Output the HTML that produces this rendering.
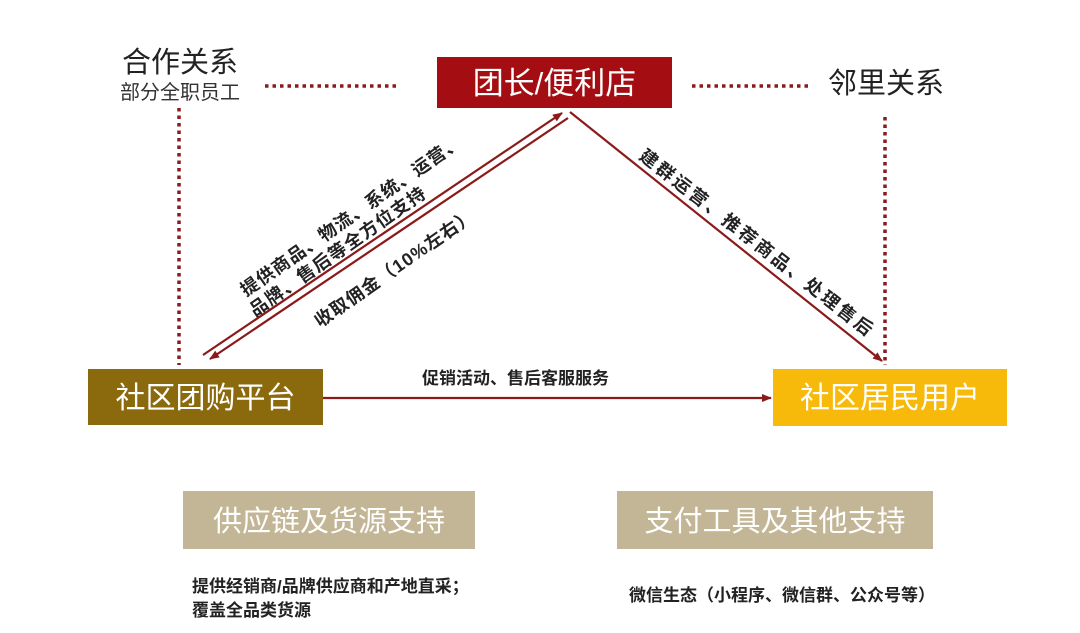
<!DOCTYPE html>
<html><head><meta charset="utf-8"><style>
html,body{margin:0;padding:0;background:#fff;}
svg{display:block;font-family:"Liberation Sans","Noto Sans CJK SC",sans-serif;}
</style></head><body>
<svg width="1080" height="633" viewBox="0 0 1080 633" xmlns="http://www.w3.org/2000/svg">
<defs>
<marker id="ah" markerWidth="10" markerHeight="8" refX="9" refY="4" orient="auto" markerUnits="userSpaceOnUse">
<path d="M0,0 L10,4 L0,8 z" fill="#8b1a1a"/>
</marker>
</defs>
<rect width="1080" height="633" fill="#fff"/>
<text x="122" y="72" font-size="29" fill="#222">合作关系</text>
<text x="120" y="99" font-size="20" fill="#333">部分全职员工</text>
<text x="828" y="93" font-size="29" fill="#222">邻里关系</text>
<g stroke="#8b1a1a" stroke-width="3.5" stroke-dasharray="3.5 4" fill="none">
<line x1="265" y1="86" x2="400" y2="86"/>
<line x1="692" y1="86" x2="808" y2="86"/>
<line x1="179" y1="108" x2="179" y2="365"/>
<line x1="885" y1="117" x2="885" y2="365"/>
</g>
<rect x="437" y="57" width="235" height="51" fill="#a40e12"/>
<text x="554.5" y="94" font-size="31" fill="#fff" text-anchor="middle">团长/便利店</text>
<rect x="88" y="369" width="235" height="56" fill="#8a6a0c"/>
<text x="205.5" y="408" font-size="30" fill="#fff" text-anchor="middle">社区团购平台</text>
<rect x="773" y="369" width="234" height="57" fill="#f7b90a"/>
<text x="890" y="408" font-size="30" fill="#fff" text-anchor="middle">社区居民用户</text>
<rect x="183" y="491" width="292" height="58" fill="#c3b696"/>
<text x="329" y="531" font-size="29" fill="#fff" text-anchor="middle">供应链及货源支持</text>
<rect x="617" y="491" width="316" height="58" fill="#c3b696"/>
<text x="775" y="531" font-size="29" fill="#fff" text-anchor="middle">支付工具及其他支持</text>
<g stroke="#8b1a1a" stroke-width="2.2" fill="none">
<line x1="203" y1="355" x2="562" y2="113" marker-end="url(#ah)"/>
<line x1="568" y1="118" x2="210" y2="359" marker-end="url(#ah)"/>
<line x1="570" y1="112" x2="882" y2="361" marker-end="url(#ah)"/>
<line x1="323" y1="398" x2="771" y2="398" marker-end="url(#ah)"/>
</g>
<g font-size="18" fill="#222" font-weight="bold">
<text transform="translate(246,297) rotate(-35)" textLength="265">提供商品、物流、系统、运营、</text>
<text transform="translate(255,317) rotate(-35)" textLength="210">品牌、售后等全方位支持</text>
<text transform="translate(320,328) rotate(-35)" textLength="190">收取佣金（10%左右）</text>
<text transform="translate(638,158) rotate(38)" textLength="290">建群运营、推荐商品、处理售后</text>
<text x="422" y="384" font-size="17">促销活动、售后客服服务</text>
<text x="192" y="592" font-size="17">提供经销商/品牌供应商和产地直采；</text>
<text x="192" y="616" font-size="17">覆盖全品类货源</text>
<text x="629" y="601" font-size="17">微信生态（小程序、微信群、公众号等）</text>
</g>
</svg>
</body></html>
